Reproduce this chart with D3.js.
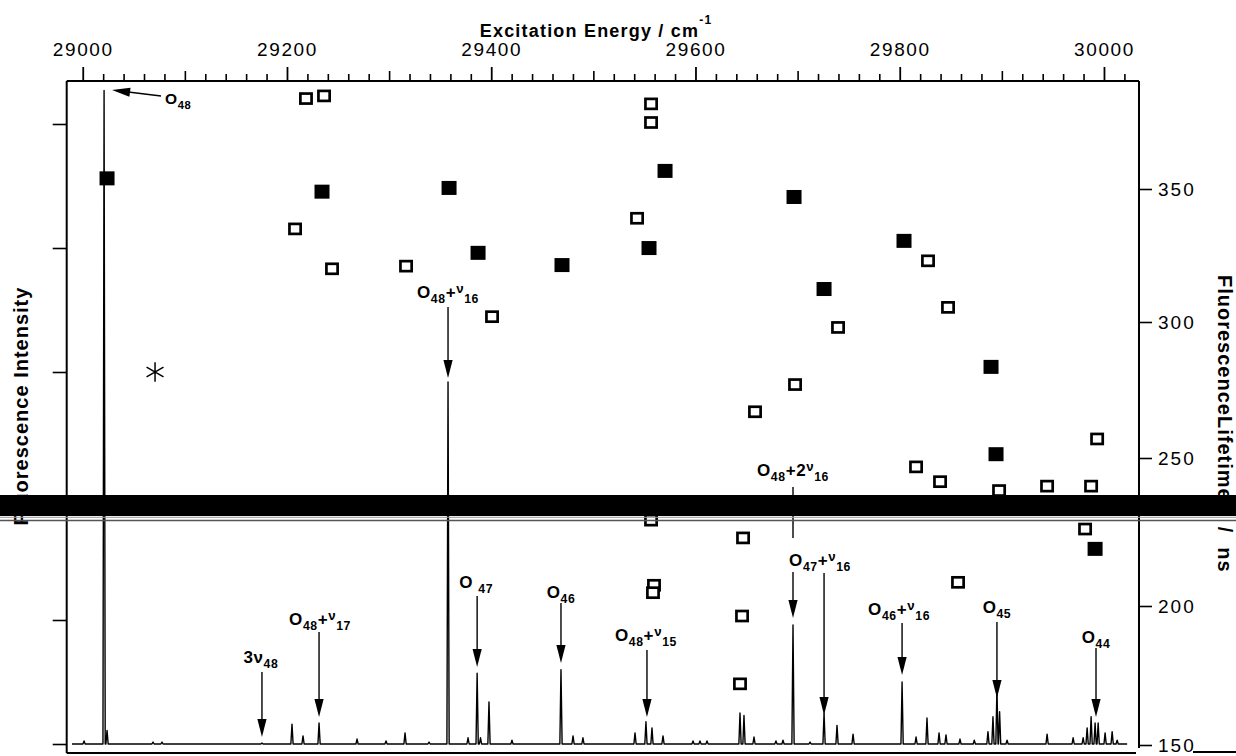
<!DOCTYPE html>
<html>
<head>
<meta charset="utf-8">
<script src="https://cdn.jsdelivr.net/npm/d3@7"></script>
<style>
  html, body { margin: 0; padding: 0; background: #fff; }
  svg { display: block; }
  text { font-family: "Liberation Sans", Arial, Helvetica, sans-serif; fill: #000; }
</style>
</head>
<body>
<svg id="chart" width="1236" height="756"></svg>
<script>
// ---------------- data ----------------
const energyTicks = [29000, 29200, 29400, 29600, 29800, 30000];
const lifetimeTicks = [150, 200, 250, 300, 350];
const intensityTicks = [0, 1, 2, 3, 4, 5];

// Excitation spectrum: line positions (cm-1) and relative intensities
const peakEnergy = [
  29001.3, 29020.9, 29023.8, 29068.8, 29077.6, 29175.5, 29204.9, 29215.7, 29231.4,
  29268.6, 29297.0, 29315.6, 29339.1, 29357.7, 29377.3, 29386.2, 29389.5, 29397.8,
  29420.3, 29468.3, 29480.1, 29489.8, 29540.8, 29551.5, 29557.4, 29568.2, 29597.6,
  29604.4, 29611.3, 29643.6, 29647.5, 29657.3, 29678.8, 29685.7, 29695.5, 29712.2,
  29725.9, 29738.6, 29754.3, 29802.3, 29816.0, 29826.7, 29838.5, 29845.3, 29859.0,
  29873.0, 29886.4, 29891.3, 29895.2, 29897.8, 29905.1, 29944.3, 29969.8, 29979.6,
  29983.5, 29987.4, 29991.3, 29994.3, 30001.1, 30008.0, 30012.9
];
const peakIntensity = [
  0.024, 5.27, 0.11, 0.016, 0.016, 0.008, 0.16, 0.065, 0.17,
  0.04, 0.024, 0.09, 0.016, 2.92, 0.05, 0.57, 0.05, 0.34,
  0.03, 0.60, 0.065, 0.05, 0.09, 0.18, 0.13, 0.065, 0.024,
  0.024, 0.024, 0.25, 0.23, 0.056, 0.024, 0.03, 0.96, 0.016,
  0.25, 0.15, 0.08, 0.50, 0.056, 0.21, 0.09, 0.073, 0.04,
  0.03, 0.10, 0.22, 0.45, 0.26, 0.03, 0.08, 0.05, 0.05,
  0.13, 0.22, 0.17, 0.17, 0.09, 0.10, 0.03
];
const spectrumStart = 28989.5;
const spectrumEnd = 30022.7;

// Fluorescence lifetimes (ns)
const openEnergy = [
  29218.6, 29236.3, 29207.9, 29244.1, 29316.6, 29400.8, 29556.5, 29556.5, 29542.8,
  29658.3, 29697.5, 29739.6, 29816.0, 29827.7, 29839.5, 29847.3, 29897.3, 29944.3,
  29987.4, 29993.3, 29981.5, 29556.5, 29559.4, 29558.4, 29646.6, 29645.6, 29643.6,
  29857.1, 29890.4
];
const openLifetime = [
  384, 385, 335, 320, 321, 302, 382, 375, 339,
  267, 277, 298, 247, 323, 242, 305.5, 239, 240.5,
  240.5, 257, 226, 229, 207, 204.5, 223, 196.4, 172,
  208, 233.4
];
const filledEnergy = [
  29023.8, 29234.3, 29358.7, 29387.1, 29469.3, 29554.5, 29570.2, 29696.5, 29804.2,
  29725.9, 29889.4, 29894.3, 29991.3
];
const filledLifetime = [
  354, 349, 350.4, 326, 321.4, 327.8, 356.8, 347, 330.5,
  312.4, 283.5, 251.4, 219.3
];
const starEnergy = [29070.8];
const starLifetime = [281.6];

// Band assignments: label pieces ([text, kind]) and line position (cm-1)
const assignLabel = [
  [["O", "n"], ["48", "sub"]],
  [["3", "n"], ["ν", "n"], ["48", "sub"]],
  [["O", "n"], ["48", "sub"], ["+", "n"], ["ν", "sup"], ["17", "sub"]],
  [["O", "n"], ["48", "sub"], ["+", "n"], ["ν", "sup"], ["16", "sub"]],
  [["O ", "n"], ["47", "sub"]],
  [["O", "n"], ["46", "sub"]],
  [["O", "n"], ["48", "sub"], ["+", "n"], ["ν", "sup"], ["15", "sub"]],
  [["O", "n"], ["48", "sub"], ["+2", "n"], ["ν", "sup"], ["16", "sub"]],
  [["O", "n"], ["47", "sub"], ["+", "n"], ["ν", "sup"], ["16", "sub"]],
  [["O", "n"], ["46", "sub"], ["+", "n"], ["ν", "sup"], ["16", "sub"]],
  [["O", "n"], ["45", "sub"]],
  [["O", "n"], ["44", "sub"]]
];
const assignEnergy = [
  29020.9, 29175.5, 29231.4, 29357.7, 29386.2, 29468.3,
  29552.5, 29695.5, 29725.9, 29802.3, 29895.2, 29992.2
];

// ---------------- layout ----------------
const W = 1236, H = 756;
const L = 66.7, R = 1139, T = 81, B = 753;

// label baseline, arrow start, arrow tip, label x-offset, gap in shaft
const assignLayout = [
  { ly: 104, a0: null, a1: null, dx: 0, fs: 15.5 },
  { ly: 663, a0: 672, a1: 737, dx: -1, fs: 17 },
  { ly: 625, a0: 632, a1: 717, dx: 1, fs: 17 },
  { ly: 298, a0: 307, a1: 378, dx: 0, fs: 17 },
  { ly: 588, a0: 596, a1: 667, dx: -1, fs: 17 },
  { ly: 598, a0: 603, a1: 663, dx: 0, fs: 17 },
  { ly: 641, a0: 650, a1: 717, dx: -1, fs: 17 },
  { ly: 476, a0: 487, a1: 618, dx: 0, fs: 17, gap: [538, 572] },
  { ly: 566, a0: 573, a1: 715, dx: -4, fs: 17 },
  { ly: 615, a0: 623, a1: 675, dx: -3, fs: 17 },
  { ly: 613, a0: 622, a1: 698, dx: 0, fs: 17 },
  { ly: 643, a0: 648, a1: 717, dx: 0, fs: 17 }
];

const svg = d3.select("#chart");

const x = d3.scaleLinear().domain([28984.3, 30034.3]).range([L, R]);
const yInt = d3.scaleLinear().domain([0, 5]).range([744, 124]);
const yLife = d3.scaleLinear()
  .domain([150, 200, 250, 300, 350])
  .range([745, 606, 458, 322, 189]);

// ---------------- axes ----------------
function styleAxis(g, w) {
  g.select(".domain").remove();
  g.selectAll(".tick line").attr("stroke", "#000").attr("stroke-width", w);
}

// top energy axis: minor (20), mid (100), major (200) ticks
const minorTicks = d3.range(29000, 30021, 20).filter(v => v % 100 !== 0);
const midTicks = energyTicks.map(v => v + 100).filter(v => v < 30000);

svg.append("g").attr("transform", `translate(0,${T})`)
  .call(d3.axisTop(x).tickValues(minorTicks).tickSize(7).tickFormat(""))
  .call(g => styleAxis(g, 1.6));
svg.append("g").attr("transform", `translate(0,${T})`)
  .call(d3.axisTop(x).tickValues(midTicks).tickSize(10).tickFormat(""))
  .call(g => styleAxis(g, 1.6));
svg.append("g").attr("transform", `translate(0,${T})`)
  .call(d3.axisTop(x).tickValues(energyTicks).tickSize(14).tickPadding(11).tickFormat(d3.format("d")))
  .call(g => styleAxis(g, 1.8))
  .call(g => g.selectAll("text")
    .attr("font-size", 19).attr("letter-spacing", 1.6).attr("font-family", null));

// right lifetime axis
svg.append("g").attr("transform", `translate(${R},0)`)
  .call(d3.axisRight(yLife).tickValues(lifetimeTicks).tickSize(13).tickPadding(6))
  .call(g => styleAxis(g, 1.6))
  .call(g => g.selectAll("text")
    .attr("font-size", 19).attr("letter-spacing", 2).attr("font-family", null));

// left intensity axis (ticks only)
svg.append("g").attr("transform", `translate(${L},0)`)
  .call(d3.axisLeft(yInt).tickValues(intensityTicks).tickSize(14).tickFormat(""))
  .call(g => styleAxis(g, 1.6));

// frame
const frame = svg.append("g").attr("stroke", "#000").attr("stroke-width", 2).attr("fill", "none");
frame.append("line").attr("x1", L).attr("x2", R).attr("y1", T).attr("y2", T);
frame.append("line").attr("x1", L).attr("x2", L).attr("y1", T).attr("y2", B);
frame.append("line").attr("x1", R).attr("x2", R).attr("y1", T).attr("y2", 748);
frame.append("line").attr("x1", L).attr("x2", 1136).attr("y1", B).attr("y2", B);
frame.append("line").attr("x1", 1193).attr("x2", W).attr("y1", 752).attr("y2", 752);

// axis titles
const xt = svg.append("text").attr("x", 596).attr("y", 37)
  .attr("text-anchor", "middle").attr("font-weight", "bold")
  .attr("font-size", 18).attr("letter-spacing", 1.2);
xt.append("tspan").text("Excitation Energy / cm");
xt.append("tspan").attr("dy", -13).attr("font-size", 12).text("-1");

svg.append("text")
  .attr("transform", "translate(28,406) rotate(-90)")
  .attr("text-anchor", "middle").attr("font-weight", "bold")
  .attr("font-size", 20).attr("letter-spacing", 1)
  .text("Fluorescence Intensity");

const rt = svg.append("text")
  .attr("transform", "translate(1218,275) rotate(90)")
  .attr("font-weight", "bold").attr("font-size", 20).attr("letter-spacing", 1);
rt.append("tspan").text("FluorescenceLifetime");
rt.append("tspan").attr("dx", 26).text("/");
rt.append("tspan").attr("dx", 14).text("ns");

// ---------------- spectrum ----------------
const hw = 1.1;
const specPts = [[spectrumStart, 0]];
peakEnergy.forEach((e, i) => {
  specPts.push([e - hw, 0], [e, peakIntensity[i]], [e + hw, 0]);
});
specPts.push([spectrumEnd, 0]);

svg.append("path")
  .datum(specPts)
  .attr("fill", "none").attr("stroke", "#000").attr("stroke-width", 1.4)
  .attr("stroke-linejoin", "round")
  .attr("d", d3.line().x(d => x(d[0])).y(d => yInt(d[1])));

// ---------------- lifetime markers ----------------
const openData = openEnergy.map((e, i) => ({ e, t: openLifetime[i] }));
const filledData = filledEnergy.map((e, i) => ({ e, t: filledLifetime[i] }));

svg.append("g").selectAll("rect").data(openData).join("rect")
  .attr("x", d => x(d.e) - 5.6).attr("y", d => yLife(d.t) - 5)
  .attr("width", 11.2).attr("height", 10)
  .attr("fill", "#fff").attr("stroke", "#000").attr("stroke-width", 2.7);

svg.append("g").selectAll("rect").data(filledData).join("rect")
  .attr("x", d => x(d.e) - 7.5).attr("y", d => yLife(d.t) - 7)
  .attr("width", 15).attr("height", 14)
  .attr("fill", "#000");

svg.append("g").selectAll("path").data(starEnergy.map((e, i) => ({ e, t: starLifetime[i] }))).join("path")
  .attr("transform", d => `translate(${x(d.e)},${yLife(d.t)})`)
  .attr("d", d3.symbol().type(d3.symbolAsterisk).size(270))
  .attr("fill", "none").attr("stroke", "#000").attr("stroke-width", 1.5);

// ---------------- assignments ----------------
function drawLabel(g, segs, cx, baseY, fs, anchor) {
  const t = g.append("text").attr("x", cx).attr("y", baseY)
    .attr("text-anchor", anchor).attr("font-weight", "bold")
    .attr("font-size", fs).attr("letter-spacing", 0.6);
  let prev = 0;
  segs.forEach(([s, k]) => {
    const off = k === "sub" ? fs * 0.3 : k === "sup" ? -fs * 0.3 : 0;
    const size = k === "sub" ? fs * 0.72 : k === "sup" ? fs * 0.78 : fs;
    t.append("tspan").attr("dy", off - prev).attr("font-size", size).text(s);
    prev = off;
  });
}

function arrowHead(g, tipX, tipY, dirX, dirY) {
  const len = 18, half = 4.6;
  const bx = tipX - dirX * len, by = tipY - dirY * len;
  const px = -dirY * half, py = dirX * half;
  g.append("path")
    .attr("d", `M${tipX},${tipY}L${bx + px},${by + py}L${bx - px},${by - py}Z`)
    .attr("fill", "#000");
}

const ann = svg.append("g");
assignLabel.forEach((segs, i) => {
  const lay = assignLayout[i];
  const px = x(assignEnergy[i]);
  if (i === 0) {
    // pointer to the origin band, drawn towards the top of its line
    drawLabel(ann, segs, 165, lay.ly, lay.fs, "start");
    const tip = [px + 8, 90], from = [161, 96];
    ann.append("line").attr("x1", from[0]).attr("y1", from[1]).attr("x2", tip[0] + 10).attr("y2", tip[1] + 1.2)
      .attr("stroke", "#000").attr("stroke-width", 1.4);
    const dx = tip[0] - from[0], dy = tip[1] - from[1], n = Math.hypot(dx, dy);
    arrowHead(ann, tip[0], tip[1], dx / n, dy / n);
    return;
  }
  drawLabel(ann, segs, px + lay.dx, lay.ly, lay.fs, "middle");
  const shaft = lay.gap ? [[lay.a0, lay.gap[0]], [lay.gap[1], lay.a1 - 10]] : [[lay.a0, lay.a1 - 10]];
  shaft.forEach(([y0, y1]) => {
    ann.append("line").attr("x1", px).attr("x2", px).attr("y1", y0).attr("y2", y1)
      .attr("stroke", "#000").attr("stroke-width", 1.4);
  });
  arrowHead(ann, px, lay.a1, 0, 1);
});

// ---------------- axis break band ----------------
svg.append("rect").attr("x", 0).attr("y", 495).attr("width", W).attr("height", 21).attr("fill", "#000");
svg.append("line").attr("x1", 0).attr("x2", W).attr("y1", 517.3).attr("y2", 517.3)
  .attr("stroke", "#9a9a9a").attr("stroke-width", 1);
svg.append("line").attr("x1", 0).attr("x2", W).attr("y1", 520.5).attr("y2", 520.5)
  .attr("stroke", "#555").attr("stroke-width", 1.6);
</script>
</body>
</html>
